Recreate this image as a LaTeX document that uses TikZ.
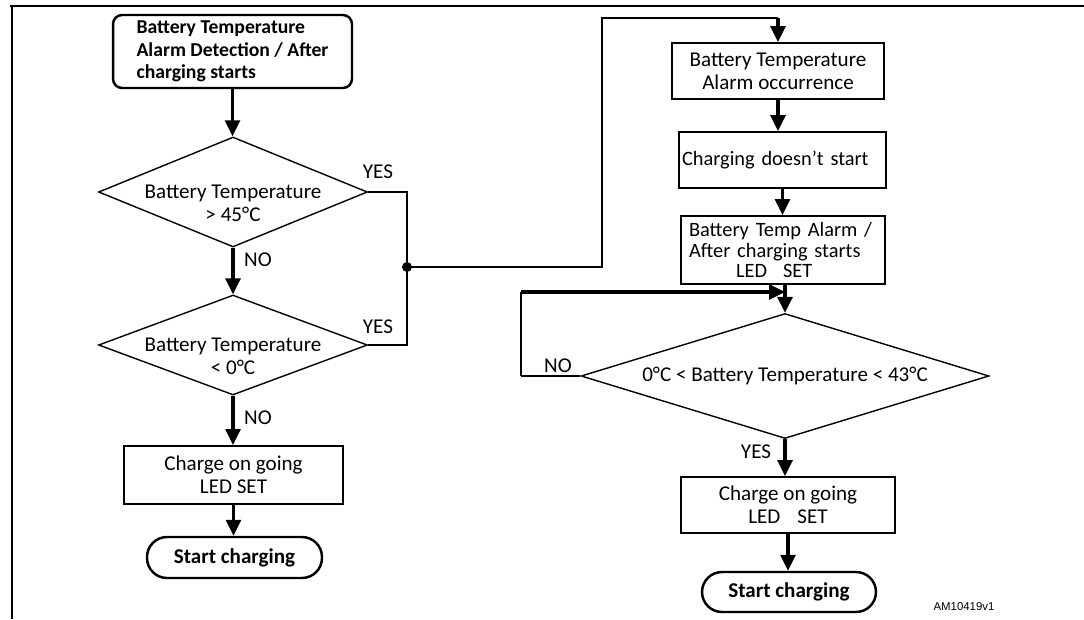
\documentclass[tikz,border=0pt]{standalone}
\usepackage{fontspec}
\setmainfont{Carlito}
\newfontfamily\tagfont{Liberation Sans}
\usetikzlibrary{shapes.geometric, arrows.meta, positioning, calc}

\tikzset{
  txt/.style={font=\fontsize{12}{13}\selectfont},
  box/.style={draw, line width=1.1pt, inner sep=2pt, align=center, txt},
  startbox/.style={draw, line width=1.4pt, rounded corners=0.18cm, align=left,
    font=\bfseries\fontsize{11.2}{12.8}\selectfont},
  term/.style={draw, line width=1.4pt, rounded corners=0.4cm, minimum height=0.82cm,
    font=\bfseries\fontsize{12}{13}\selectfont},
  decision/.style={diamond, draw, line width=0.8pt, inner sep=0pt},
  flow/.style={-{Triangle[length=0.32cm,width=0.3cm]}, line width=1.8pt},
  wire/.style={line width=0.8pt}
}

\begin{document}
\begin{tikzpicture}[x=0.02cm, y=-0.02cm]
  \useasboundingbox (0,0) rectangle (1084,619);

  % Frame
  \draw[line width=1.6pt] (10,6) -- (1084,6);
  \draw[line width=1pt] (12,6) -- (12,619);

  % Left column
  \node[startbox, minimum width=4.78cm, minimum height=1.46cm] (alarm) at (232.5,51.5)
        {Battery Temperature\\Alarm Detection / After\\charging starts};
  \node[decision, minimum width=5.38cm, minimum height=2.2cm,
        label={[txt, align=center, yshift=-0.22cm]center:Battery Temperature\\> 45°C}]
        (hot) at (233,192) {};
  \node[decision, minimum width=5.38cm, minimum height=2.0cm,
        label={[txt, align=center, yshift=-0.22cm]center:Battery Temperature\\< 0°C}]
        (cold) at (233,345) {};
  \node[box, minimum width=4.38cm, minimum height=1.16cm] (going) at (233.5,475)
        {Charge on going\\LED SET};
  \node[term, minimum width=3.5cm] (begin) at (234.5,557.5) {Start charging};

  % Right column
  \node[box, minimum width=4.24cm, minimum height=1.12cm] (occur) at (778,71)
        {Battery Temperature\\Alarm occurrence};
  \node[box, minimum width=4.14cm, minimum height=1.12cm, text width=4.02cm,
        inner xsep=0.06cm, align=left, font=\fontsize{11.6}{13}\selectfont]
        (nostart) at (782.5,160) {Charging doesn’t start};
  \node[box, minimum width=4.08cm, minimum height=1.36cm, text width=3.92cm,
        inner xsep=0.08cm, align=left, font=\fontsize{11.6}{11.4}\selectfont]
        (ledset) at (783,250)
        {\hspace*{0.08cm}Battery Temp Alarm /\\\hspace*{0.08cm}After charging starts\\
         \hspace*{1.02cm}LED\hspace{0.32cm}SET};
  \node[decision, minimum width=8.16cm, minimum height=2.5cm,
        label={[txt]center:0°C < Battery Temperature < 43°C}]
        (range) at (785,376) {};
  \node[box, minimum width=4.28cm, minimum height=1.12cm] (going2) at (788,505)
        {Charge on going\\LED\hspace{0.34cm}SET};
  \node[term, minimum width=3.48cm, minimum height=0.8cm] (begin2) at (789,592)
        {Start charging};

  % Junction points
  \coordinate (dot) at (407,267);
  \coordinate (up) at (602,18);
  \coordinate (loop) at (521,292);

  % Arrows, left column
  \draw[flow] (alarm.south) -- (alarm.south |- hot.north);
  \draw[flow] (hot.south) -- (cold.north);
  \draw[flow] (cold.south) -- (cold.south |- going.north);
  \draw[flow] (going.south) -- (going.south |- begin.north);

  % YES branch to the right column
  \draw[wire] (hot.east) -| (dot) |- (cold.east);
  \fill (dot) circle (0.1cm);
  \draw[wire] (dot) -| (up) -- (up -| occur.north);
  \draw[flow] (up -| occur.north) -- (occur.north);

  % Arrows, right column
  \draw[flow] (occur.south) -- (occur.south |- nostart.north);
  \draw[flow] (nostart.south) -- (nostart.south |- ledset.north);
  \draw[flow] (ledset.south -| range.north) -- (range.north);
  \draw[wire] (range.west) -- (range.west -| loop);
  \draw[line width=1.2pt] (range.west -| loop) -- (loop);
  \draw[flow] (loop) -- (range.north |- loop);
  \draw[flow] (range.south) -- (range.south |- going2.north);
  \draw[flow] (going2.south) -- (going2.south |- begin2.north);

  % Branch labels
  \foreach \x/\y/\word in {378/172/YES, 258/260/NO, 378/327/YES,
                           258/418/NO, 558/366/NO, 756/452/YES}
    \node[txt] at (\x,\y) {\word};

  \node[font=\tagfont\fontsize{6.5}{7}\selectfont] (tag) at (964,607) {AM10419v1};
\end{tikzpicture}
\end{document}
